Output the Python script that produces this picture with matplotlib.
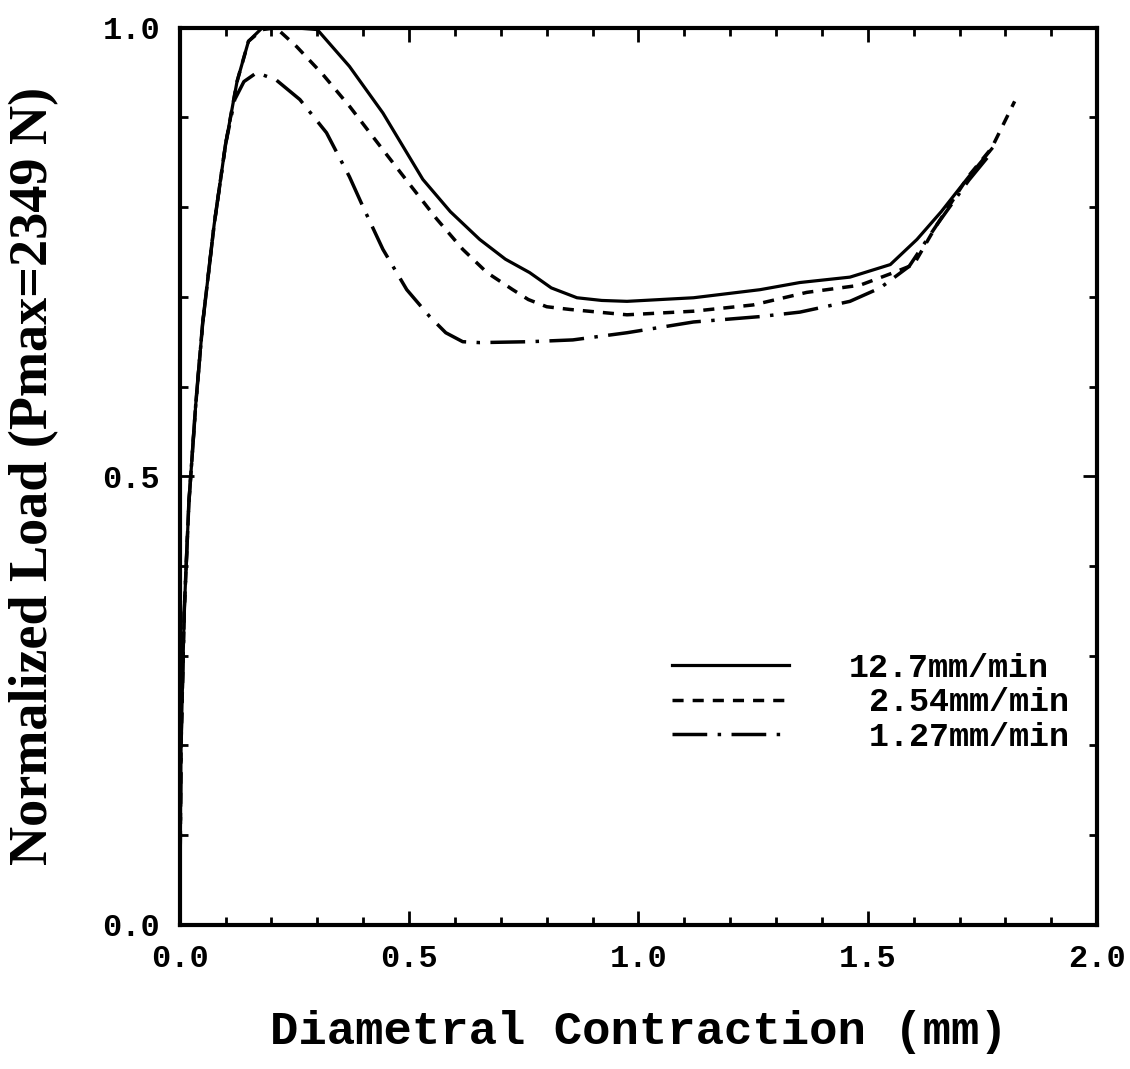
import matplotlib.pyplot as plt
from matplotlib.ticker import MultipleLocator, FormatStrFormatter

# 12.7 mm/min (solid)
x_127 = [0, 0.003, 0.01, 0.02, 0.035, 0.05, 0.075, 0.10, 0.125, 0.15, 0.18, 0.25, 0.30,
         0.37, 0.443, 0.53, 0.59, 0.654, 0.71, 0.763, 0.81, 0.866, 0.92, 0.975, 1.12,
         1.265, 1.352, 1.461, 1.549, 1.607, 1.66, 1.72, 1.77]
y_127 = [0, 0.20, 0.35, 0.47, 0.58, 0.67, 0.78, 0.87, 0.94, 0.985, 1.0, 1.0, 0.998,
         0.957, 0.905, 0.831, 0.795, 0.764, 0.742, 0.727, 0.71, 0.699, 0.696, 0.695, 0.699,
         0.708, 0.716, 0.722, 0.736, 0.764, 0.795, 0.834, 0.865]

# 2.54 mm/min (dashed)
x_254 = [0, 0.003, 0.01, 0.02, 0.035, 0.05, 0.075, 0.10, 0.125, 0.15, 0.18, 0.21, 0.255,
         0.312, 0.371, 0.443, 0.502, 0.56, 0.617, 0.67, 0.726, 0.76, 0.80, 0.85, 0.975,
         1.12, 1.25, 1.367, 1.483, 1.556, 1.60, 1.65, 1.72, 1.77, 1.82]
y_254 = [0, 0.20, 0.35, 0.47, 0.58, 0.67, 0.78, 0.87, 0.94, 0.985, 0.998, 1.0, 0.979,
         0.948, 0.912, 0.864, 0.825, 0.787, 0.753, 0.727, 0.708, 0.697, 0.689, 0.686, 0.680,
         0.684, 0.691, 0.705, 0.713, 0.727, 0.736, 0.78, 0.835, 0.866, 0.918]

# 1.27 mm/min (dash-dot)
x_1270 = [0, 0.003, 0.01, 0.02, 0.035, 0.05, 0.075, 0.10, 0.12, 0.14, 0.168, 0.21, 0.262,
          0.32, 0.37, 0.40, 0.443, 0.495, 0.545, 0.58, 0.617, 0.654, 0.763, 0.857, 0.975,
          1.12, 1.265, 1.352, 1.461, 1.527, 1.59, 1.65, 1.72, 1.76]
y_1270 = [0, 0.20, 0.35, 0.47, 0.58, 0.67, 0.78, 0.87, 0.92, 0.94, 0.95, 0.942, 0.92,
          0.883, 0.834, 0.80, 0.753, 0.708, 0.678, 0.660, 0.650, 0.649, 0.650, 0.652, 0.660,
          0.672, 0.678, 0.683, 0.695, 0.710, 0.734, 0.78, 0.83, 0.855]

labels = ['12.7mm/min', ' 2.54mm/min', ' 1.27mm/min']

mono = 'Liberation Mono'

fig = plt.figure(figsize=(11.3, 10.69), dpi=100)
ax = fig.add_axes([0.159, 0.135, 0.812, 0.839])

ax.plot(x_127, y_127, color='black', lw=2.3, ls='-', label=labels[0])
ax.plot(x_254, y_254, color='black', lw=2.5, ls=(0, (3.2, 2.6)), label=labels[1])
ax.plot(x_1270, y_1270, color='black', lw=2.5, ls=(0, (10, 3, 1, 3)), label=labels[2])

ax.set_xlim(0, 2.0)
ax.set_ylim(0, 1.0)

ax.xaxis.set_major_locator(MultipleLocator(0.5))
ax.xaxis.set_minor_locator(MultipleLocator(0.1))
ax.yaxis.set_major_locator(MultipleLocator(0.5))
ax.yaxis.set_minor_locator(MultipleLocator(0.1))
ax.xaxis.set_major_formatter(FormatStrFormatter('%.1f'))
ax.yaxis.set_major_formatter(FormatStrFormatter('%.1f'))
ax.tick_params(which='both', direction='in', top=True, right=True, width=2, color='black')
ax.tick_params(which='major', length=10, pad=14)
ax.tick_params(which='minor', length=6)

for s in ax.spines.values():
    s.set_linewidth(3)

for t in ax.get_xticklabels() + ax.get_yticklabels():
    t.set_fontfamily(mono)
    t.set_fontweight('bold')
    t.set_fontsize(23)

ax.set_xlabel('Diametral Contraction (mm)', fontfamily=mono, fontsize=34, fontweight='bold')
ax.set_ylabel('Normalized Load (Pmax=2349 N)', fontfamily='Liberation Serif',
              fontsize=39, fontweight='bold')
ax.xaxis.set_label_coords(0.5, -0.095)
ax.yaxis.set_label_coords(-0.131, 0.5)

leg = ax.legend(loc='center left', bbox_to_anchor=(0.537, 0.2475), frameon=False,
                borderpad=0, borderaxespad=0, handlelength=3.5, handletextpad=1.8,
                labelspacing=0.1, prop={'family': mono, 'weight': 'bold', 'size': 24})

fig.savefig('out.png', dpi=100)
